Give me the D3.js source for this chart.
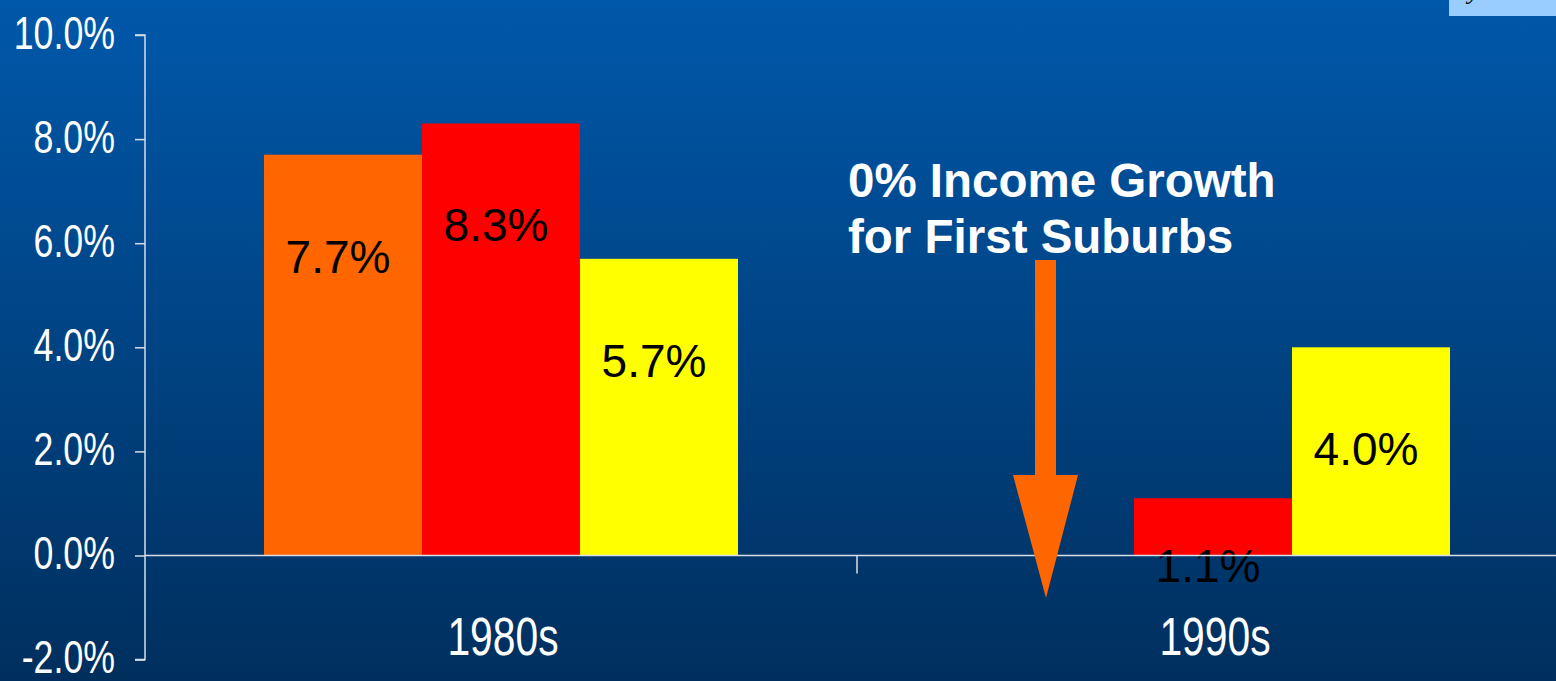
<!DOCTYPE html>
<html>
  <head>
    <meta charset="utf-8">
    <title>Income growth by decade</title>
    <script src="https://d3js.org/d3.v7.min.js"></script>
    <style>
      html, body { margin: 0; padding: 0; overflow: hidden; }
      svg { display: block; }
    </style>
  </head>
  <body>
    <svg id="chart" width="1556" height="681"></svg>
    <script>
      // data
      var categories = ["1980s", "1990s"];
      var seriesNames = ["First Suburbs", "Central Cities", "Outer Suburbs"];
      var values1980s = [7.7, 8.3, 5.7];
      var values1990s = [0.0, 1.1, 4.0];
      var seriesColors = ["#FF6600", "#FF0000", "#FFFF00"];
      var yTicks = [-2, 0, 2, 4, 6, 8, 10];
      var annotation = ["0% Income Growth", "for First Suburbs"];

      var rows = categories.map(function(c, i) {
        var vals = i === 0 ? values1980s : values1990s;
        return { category: c, values: seriesNames.map(function(s, j) { return { series: s, value: vals[j], color: seriesColors[j] }; }) };
      });

      var width = 1556, height = 681;
      var svg = d3.select("#chart");

      // background gradient
      var grad = svg.append("defs").append("linearGradient")
        .attr("id", "bg").attr("x1", "0%").attr("x2", "0%").attr("y1", "0%").attr("y2", "100%");
      grad.append("stop").attr("offset", "0%").attr("stop-color", "#0058AA");
      grad.append("stop").attr("offset", "100%").attr("stop-color", "#002F5E");
      svg.append("rect").attr("width", width).attr("height", height).attr("fill", "url(#bg)");

      // scales
      var y = d3.scaleLinear().domain([-2, 10]).range([659.6, 35]);
      var x0 = d3.scaleBand().domain(categories).range([145, 1569]);
      var x1 = d3.scaleBand().domain(seriesNames).range([119, 593]);
      var axisColor = "#D8DEE8";

      // bars
      var groups = svg.selectAll("g.group")
        .data(rows)
        .enter().append("g")
          .attr("class", "group")
          .attr("transform", function(d) { return "translate(" + x0(d.category) + ",0)"; });
      groups.selectAll("rect")
        .data(function(d) { return d.values; })
        .enter().append("rect")
          .attr("x", function(d) { return x1(d.series); })
          .attr("width", x1.bandwidth())
          .attr("y", function(d) { return y(Math.max(0, d.value)); })
          .attr("height", function(d) { return Math.abs(y(d.value) - y(0)); })
          .attr("fill", function(d) { return d.color; });

      // left axis
      var yAxis = d3.axisLeft(y).tickValues(yTicks).tickSize(10).tickFormat(function(d) { return d.toFixed(1) + "%"; });
      var yg = svg.append("g").attr("transform", "translate(145,0)").call(yAxis);
      yg.select(".domain").attr("d", "M-10," + y(10) + "H0V" + y(-2) + "H-10").attr("stroke", axisColor).attr("stroke-width", 1.5);
      yg.selectAll(".tick line").attr("stroke", axisColor).attr("stroke-width", 1.5);
      yg.selectAll(".tick text")
        .attr("x", null).attr("dy", null)
        .attr("fill", "#FFFFFF")
        .attr("font-family", "Liberation Sans, Arial, sans-serif")
        .attr("font-size", 47)
        .attr("text-anchor", "end")
        .attr("transform", "translate(-30,13) scale(0.76,1)");

      // category axis along zero
      svg.append("line")
        .attr("x1", 145).attr("x2", width)
        .attr("y1", y(0)).attr("y2", y(0))
        .attr("stroke", axisColor).attr("stroke-width", 1.5);
      svg.selectAll("line.ctick")
        .data(categories)
        .enter().append("line")
          .attr("class", "ctick")
          .attr("x1", function(d) { return x0(d) + x0.bandwidth(); })
          .attr("x2", function(d) { return x0(d) + x0.bandwidth(); })
          .attr("y1", y(0)).attr("y2", y(0) + 18)
          .attr("stroke", axisColor).attr("stroke-width", 1.5);
      svg.selectAll("text.cat")
        .data(categories)
        .enter().append("text")
          .attr("class", "cat")
          .attr("transform", function(d) { return "translate(" + (x0(d) + x0.bandwidth() / 2 + 2) + ",655) scale(0.77,1)"; })
          .attr("text-anchor", "middle")
          .attr("fill", "#FFFFFF")
          .attr("font-family", "Liberation Sans, Arial, sans-serif")
          .attr("font-size", 53)
          .text(function(d) { return d; });

      // value labels (0% bar has no label)
      groups.selectAll("text.val")
        .data(function(d) { return d.values.filter(function(v) { return v.value !== 0; }); })
        .enter().append("text")
          .attr("class", "val")
          .attr("x", function(d) { return x1(d.series) + x1.bandwidth() / 2 - 5; })
          .attr("y", function(d) { return Math.min(y(d.value) + 118, y(0) + 26); })
          .attr("text-anchor", "middle")
          .attr("fill", "#000000")
          .attr("font-family", "Liberation Sans, Arial, sans-serif")
          .attr("font-size", 46)
          .text(function(d) { return d.value.toFixed(1) + "%"; });

      // annotation
      svg.selectAll("text.note")
        .data(annotation)
        .enter().append("text")
          .attr("class", "note")
          .attr("x", 848)
          .attr("y", function(d, i) { return 197 + i * 56; })
          .attr("fill", "#FFFFFF")
          .attr("font-family", "Liberation Sans, Arial, sans-serif")
          .attr("font-weight", "bold")
          .attr("font-size", 47.5)
          .text(function(d) { return d; });
      svg.append("path")
        .attr("d", "M1035,260H1056V475H1078L1046,598L1013,475H1035Z")
        .attr("fill", "#FF6600");

      // clipped box in the top-right corner
      svg.append("rect").attr("x", 1449).attr("y", 0).attr("width", 107).attr("height", 16).attr("fill", "#99CCFF");
      svg.append("text")
        .attr("x", 1468).attr("y", -1)
        .attr("font-family", "Liberation Serif, Times New Roman, serif")
        .attr("font-style", "italic")
        .attr("font-size", 26)
        .attr("fill", "#000000")
        .text("y");
    </script>
  </body>
</html>
